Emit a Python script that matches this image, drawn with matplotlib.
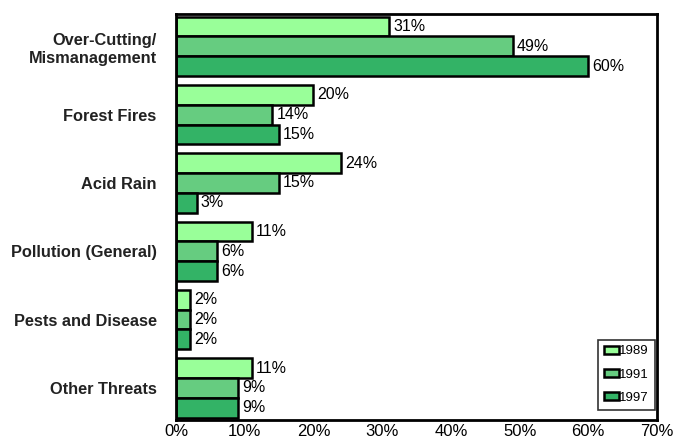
import numpy as np
import matplotlib.pyplot as plt
from matplotlib.ticker import FuncFormatter

plt.rcParams['font.family'] = ['Liberation Sans', 'DejaVu Sans']

categories = ['Over-Cutting/\nMismanagement', 'Forest Fires', 'Acid Rain',
              'Pollution (General)', 'Pests and Disease', 'Other Threats']
years = ['1989', '1991', '1997']
values_1989 = [31, 20, 24, 11, 2, 11]
values_1991 = [49, 14, 15, 6, 2, 9]
values_1997 = [60, 15, 3, 6, 2, 9]
colors = ['#99ff99', '#66cc80', '#33b366']

fig = plt.figure(figsize=(6.81, 4.42), dpi=100)
ax = fig.add_axes([0.2584, 0.0498, 0.7064, 0.918])

series = [values_1989, values_1991, values_1997]
n = len(categories)
group_y = np.arange(n)[::-1] * 1.0
bar_h = 0.29

for i, (vals, year, col) in enumerate(zip(series, years, colors)):
    y = group_y + (1 - i) * bar_h
    bars = ax.barh(y, vals, height=bar_h, color=col, edgecolor='black',
                   linewidth=1.8, label=year)
    for b, v in zip(bars, vals):
        ax.text(b.get_width() + 0.6, b.get_y() + b.get_height() / 2,
                f'{v}%', va='center', ha='left', fontsize=11.5)

ax.set_xlim(0, 70)
ax.set_ylim(group_y.min() - 0.5 + 0.03, group_y.max() + 0.5 - 0.03)
ax.set_xticks(range(0, 71, 10))
ax.xaxis.set_major_formatter(FuncFormatter(lambda x, _: f'{int(x)}%'))
ax.set_yticks(group_y)
ax.set_yticklabels(categories, fontweight='bold', fontsize=11.8,
                   color='#222222', linespacing=1.3)
ax.tick_params(axis='both', length=0)
ax.tick_params(axis='x', labelsize=12, pad=3)
ax.tick_params(axis='y', pad=14)
for s in ax.spines.values():
    s.set_linewidth(2)

leg = ax.legend(loc='lower right', fontsize=9.5, frameon=True, fancybox=False,
                edgecolor='black', handlelength=1.2, handleheight=0.5,
                handletextpad=0.0, labelspacing=0.85, borderpad=0.45,
                borderaxespad=0.0, bbox_to_anchor=(0.996, 0.025))
leg.get_frame().set_linewidth(1.2)

fig.savefig('out.png', dpi=100)
